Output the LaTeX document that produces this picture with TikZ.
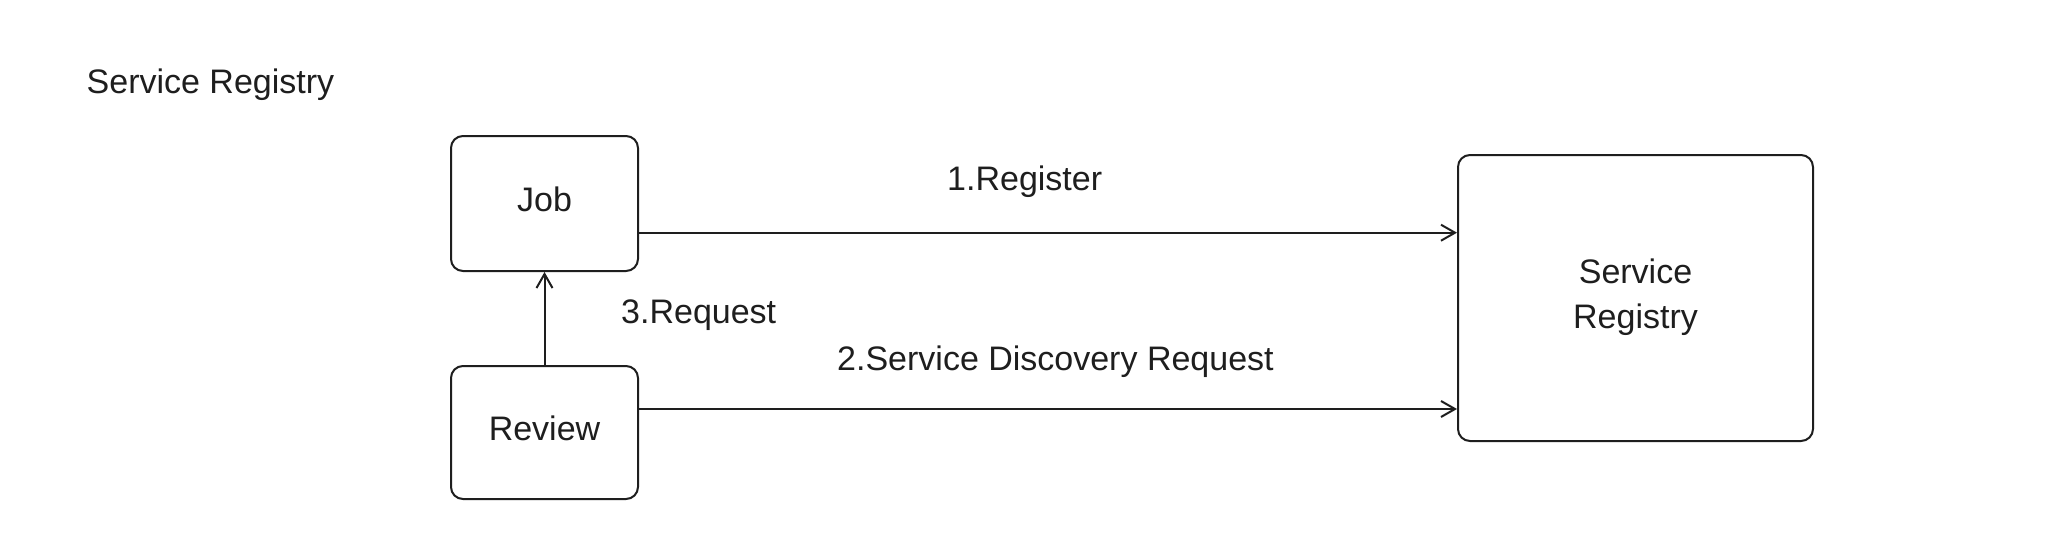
\documentclass[tikz,border=0pt]{standalone}
\usepackage{fontspec}
\setmainfont{Liberation Sans}
\usetikzlibrary{arrows.meta}
\definecolor{ink}{HTML}{1E1E1E}
\tikzset{
  box/.style={draw=ink, line width=2pt, rounded corners=12pt, inner sep=0pt,
    text=ink, font=\fontsize{34}{45}\selectfont, align=center},
  onebox/.style={box, text height=24.4pt, text depth=8pt},
  lbl/.style={text=ink, font=\fontsize{34}{45}\selectfont, inner sep=0pt, anchor=base west},
  arr/.style={draw=ink, line width=2pt, line join=round, line cap=round,
    -{Straight Barb[length=14pt,width=16pt,line width=2pt]}}
}
\begin{document}
\begin{tikzpicture}[x=1pt,y=-1pt]
\useasboundingbox[fill=white] (0,0) rectangle (2048,557);
\node[lbl] (title) at (86.5,93) {Service Registry};
\node[onebox, minimum width=187pt, minimum height=135pt] (job) at (544.5,203.5) {Job};
\node[onebox, minimum width=187pt, minimum height=133pt] (review) at (544.5,432.5) {Review};
\node[box, minimum width=355pt, minimum height=286pt] (sr) at (1635.5,298) {\raisebox{0pt}[24.4pt][0pt]{Service}\\\raisebox{0pt}[0pt][8pt]{Registry}};
\node[lbl] (l1) at (947,190) {1.Register};
\node[lbl] (l3) at (621,323) {3.Request};
\node[lbl] (l2) at (837,370) {2.Service Discovery Request};
\draw[arr] (job.east |- 0,232.7) -- (sr.west |- 0,232.7);
\draw[arr] (review.east |- 0,409) -- (sr.west |- 0,409);
\draw[arr] (review.north) -- (job.south);
\end{tikzpicture}
\end{document}
